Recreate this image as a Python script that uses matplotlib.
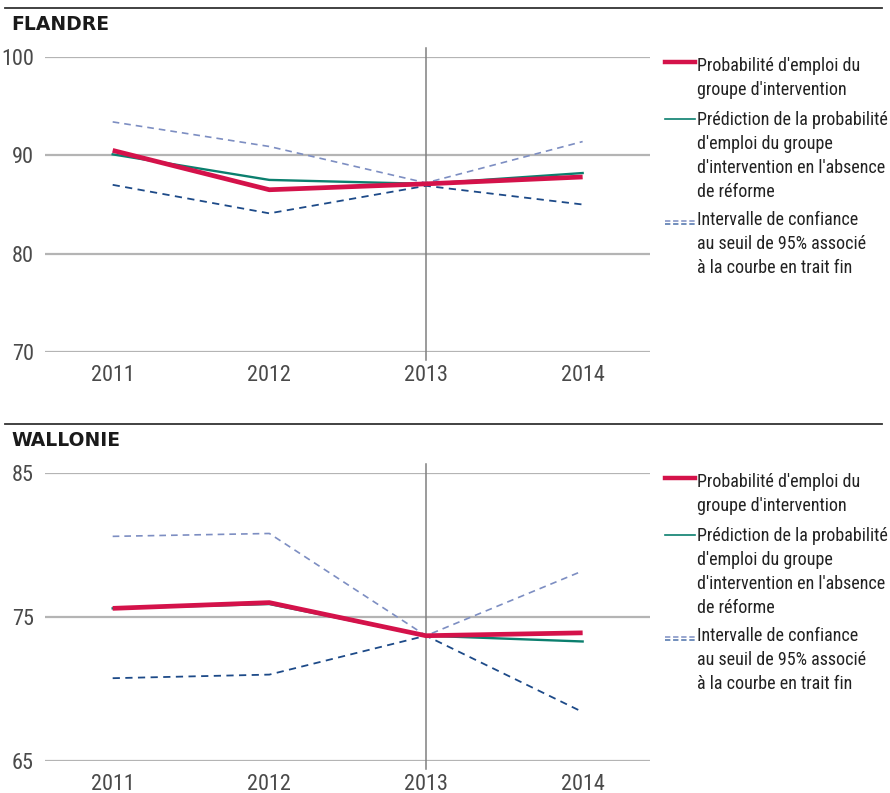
import matplotlib
matplotlib.use("Agg")
import matplotlib.pyplot as plt
from matplotlib import font_manager as fm
from matplotlib.lines import Line2D

years = [2011, 2012, 2013, 2014]

# Flandre
fl_obs = [90.5, 86.5, 87.1, 87.8]
fl_pred = [90.1, 87.5, 87.1, 88.2]
fl_ci_hi = [93.4, 90.9, 87.2, 91.4]
fl_ci_lo = [87.0, 84.1, 86.9, 85.0]
fl_ticks = [70, 80, 90, 100]

# Wallonie
wa_obs = [75.6, 76.0, 73.7, 73.9]
wa_pred = [75.6, 75.9, 73.7, 73.3]
wa_ci_hi = [80.6, 80.8, 73.7, 78.2]
wa_ci_lo = [70.75, 71.0, 73.7, 68.4]
wa_ticks = [65, 75, 85]

legend_labels = [
    "Probabilité d'emploi du\ngroupe d'intervention",
    "Prédiction de la probabilité\nd'emploi du groupe\nd'intervention en l'absence\nde réforme",
    "Intervalle de confiance\nau seuil de 95% associé\nà la courbe en trait fin",
]

RED = '#d4124a'
GREEN = '#0b7f6e'
LIGHT = '#7d8ec2'
DARK = '#1d4a88'
GRID = '#b4b4b4'
TXT = '#4a4a4a'


def narrow_font():
    # look for a condensed face among the installed fonts
    order = ['Liberation Sans Narrow', 'Roboto Condensed', 'Open Sans Condensed',
             'Noto Sans', 'DejaVu Sans', 'Open Sans', 'Roboto', 'Inter']
    found = []
    for f in fm.fontManager.ttflist:
        narrow = ('Narrow' in f.name or 'Condensed' in f.name
                  or f.stretch in ('condensed', 'semi-condensed', 'extra-condensed',
                                   'ultra-condensed'))
        if narrow and f.style == 'normal' and f.weight in (400, 'normal', 'regular', 'book'):
            rank = order.index(f.name) if f.name in order else len(order)
            found.append((rank, f.fname))
    if found:
        found.sort()
        return fm.FontProperties(fname=found[0][1]), True
    return fm.FontProperties(family='DejaVu Sans'), False


FONT, IS_NARROW = narrow_font()
TICK_SIZE = 16 if IS_NARROW else 12.5
LEG_SIZE = 13 if IS_NARROW else 10

W, H = 890, 793
fig = plt.figure(figsize=(W / 100, H / 100), dpi=100)


def px(x, y):
    return x / W, 1 - y / H


def panel(top_px, bottom_px, title, obs, pred, hi, lo, ticks):
    x0, y0 = px(45, bottom_px)
    ax = fig.add_axes([x0, y0, 605 / W, (bottom_px - top_px) / H])
    ax.set_xlim(2010.568, 2014.43)
    ax.set_ylim(ticks[0], ticks[-1])
    for t in ticks:
        ax.axhline(t, color=GRID, lw=1.6, zorder=1)
    span = bottom_px - top_px
    ax.axvline(2013, ymin=-8 / span, ymax=1 + 9 / span, color='#808080', lw=1.1,
               clip_on=False, zorder=1)
    ax.plot(years, hi, color=LIGHT, lw=1.2, ls=(0, (4, 3)), zorder=2)
    ax.plot(years, lo, color=DARK, lw=1.3, ls=(0, (4, 3)), zorder=2)
    ax.plot(years, pred, color=GREEN, lw=1.7, zorder=3)
    ax.plot(years, obs, color=RED, lw=3.4, zorder=4, solid_capstyle='butt')
    ax.set_yticks(ticks)
    ax.set_xticks(years)
    ax.tick_params(length=0, labelcolor=TXT)
    ax.tick_params(axis='y', pad=8)
    ax.tick_params(axis='x', pad=9)
    for lab in ax.get_xticklabels() + ax.get_yticklabels():
        lab.set_fontproperties(FONT)
        lab.set_fontsize(TICK_SIZE)
    for s in ax.spines.values():
        s.set_visible(False)

    # section rule and title
    rule_y = top_px - 49
    fig.add_artist(Line2D([5 / W, 882 / W], [1 - rule_y / H] * 2,
                          color='#333333', lw=1.3, transform=fig.transFigure))
    fig.text(*px(11, rule_y + 17), title, fontsize=13.5, fontweight='bold',
             family='DejaVu Sans', color='#1a1a1a', va='center')

    # legend: handle offset, text centre offset (px below top_px)
    hx = [665 / W, 695 / W]
    fig.add_artist(Line2D(hx, [1 - (top_px + 5) / H] * 2, color=RED, lw=3.2,
                          transform=fig.transFigure))
    fig.add_artist(Line2D(hx, [1 - (top_px + 62) / H] * 2, color=GREEN, lw=1.2,
                          transform=fig.transFigure))
    fig.add_artist(Line2D(hx, [1 - (top_px + 163.5) / H] * 2, color=LIGHT, lw=1.1,
                          ls=(0, (3.5, 1.8)), transform=fig.transFigure))
    fig.add_artist(Line2D(hx, [1 - (top_px + 167) / H] * 2, color='#4a70aa', lw=1.1,
                          ls=(0, (3.5, 1.8)), transform=fig.transFigure))
    for off, label in zip([8, 62, 162], legend_labels):
        t = fig.text(*px(697, top_px + off - 8), label, color='#222222',
                     va='top', ha='left', linespacing=1.42)
        t.set_fontproperties(FONT)
        t.set_fontsize(LEG_SIZE)
    return ax


panel(57, 352, 'FLANDRE', fl_obs, fl_pred, fl_ci_hi, fl_ci_lo, fl_ticks)
panel(473, 761, 'WALLONIE', wa_obs, wa_pred, wa_ci_hi, wa_ci_lo, wa_ticks)

fig.savefig('out.png', dpi=100)
